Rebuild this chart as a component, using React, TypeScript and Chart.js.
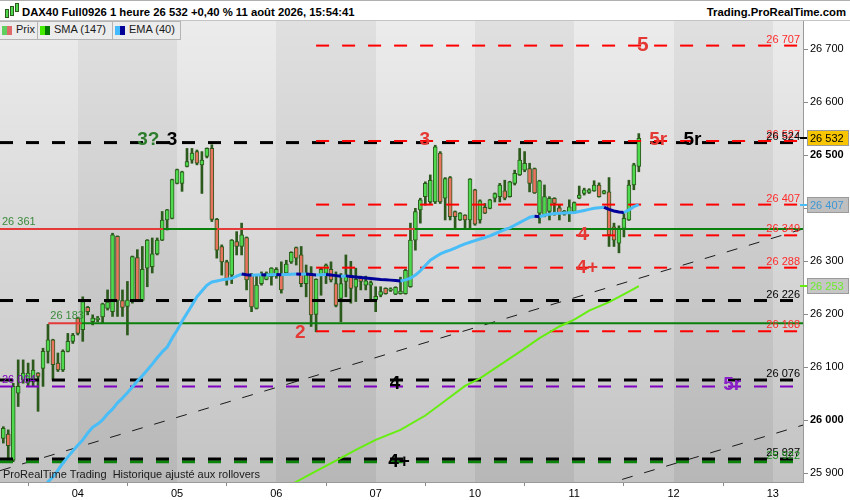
import React, { useEffect, useRef } from 'react';
import { Chart, registerables } from 'chart.js';

Chart.register(...registerables);

const FONT = '"Liberation Sans", Arial, Helvetica, sans-serif';

// ---- candles (hourly, index 0 = first visible candle on Aug 3, 20 candles per day) ----
const opens = [
  25966, 25974, 25925, 26051, 26076, 26070, 26076, 26089, 26098, 26130,
  26152, 26108, 26095, 26130, 26149, 26193, 26171, 26213, 26186, 26190,
  26195, 26211, 26205, 26347, 26226, 26215, 26226, 26307, 26226, 26287,
  26290, 26314, 26340, 26378, 26381, 26447, 26447, 26479, 26491, 26507,
  26482, 26498, 26513, 26379, 26328, 26299, 26274, 26337, 26328, 26345,
  26274, 26211, 26258, 26266, 26271, 26272, 26274, 26278, 26299, 26326,
  26312, 26258, 26277, 26200, 26274, 26277, 26285, 26258, 26230, 26262,
  26274, 26251, 26270, 26255, 26255, 26227, 26236, 26249, 26245, 26238,
  26239, 26239, 26252, 26340, 26397, 26422, 26412, 26412, 26504, 26419,
  26458, 26394, 26378, 26387, 26378, 26435, 26378, 26402, 26400, 26419,
  26422, 26433, 26422, 26447, 26463, 26472, 26475, 26475, 26391, 26387,
  26394, 26419, 26401, 26389, 26390, 26394, 26419, 26428, 26430, 26433,
  26444, 26428, 26431, 26365, 26334, 26362, 26378, 26444, 26479,
];
const highs = [
  25988, 25982, 26070, 26114, 26114, 26108, 26114, 26090, 26136, 26181,
  26153, 26127, 26133, 26164, 26164, 26194, 26233, 26215, 26199, 26196,
  26221, 26246, 26353, 26348, 26246, 26262, 26310, 26322, 26328, 26341,
  26344, 26344, 26394, 26398, 26455, 26474, 26470, 26513, 26513, 26510,
  26507, 26514, 26520, 26381, 26331, 26302, 26341, 26356, 26372, 26346,
  26277, 26274, 26280, 26280, 26288, 26288, 26299, 26302, 26318, 26327,
  26328, 26293, 26290, 26267, 26287, 26295, 26299, 26280, 26277, 26312,
  26300, 26287, 26272, 26272, 26263, 26252, 26252, 26250, 26250, 26252,
  26270, 26285, 26372, 26400, 26419, 26450, 26463, 26519, 26507, 26458,
  26460, 26395, 26392, 26388, 26456, 26436, 26416, 26409, 26417, 26429,
  26447, 26453, 26451, 26472, 26513, 26507, 26485, 26476, 26453, 26444,
  26422, 26420, 26406, 26396, 26416, 26412, 26442, 26438, 26437, 26452,
  26448, 26434, 26458, 26372, 26367, 26390, 26453, 26485, 26541,
];
const lows = [
  25957, 25925, 25922, 26026, 26070, 26064, 26064, 26017, 26064, 26108,
  26076, 26092, 26092, 26129, 26145, 26161, 26149, 26199, 26180, 26186,
  26183, 26208, 26196, 26196, 26196, 26161, 26221, 26226, 26225, 26252,
  26278, 26312, 26339, 26359, 26380, 26446, 26432, 26478, 26485, 26482,
  26428, 26495, 26375, 26306, 26274, 26255, 26258, 26312, 26312, 26246,
  26205, 26210, 26255, 26265, 26255, 26268, 26240, 26274, 26296, 26293,
  26252, 26233, 26177, 26167, 26236, 26258, 26261, 26214, 26186, 26233,
  26221, 26224, 26246, 26246, 26224, 26205, 26233, 26238, 26243, 26237,
  26238, 26238, 26251, 26321, 26372, 26406, 26409, 26409, 26409, 26378,
  26378, 26362, 26377, 26362, 26362, 26368, 26372, 26390, 26399, 26412,
  26412, 26416, 26421, 26444, 26462, 26469, 26431, 26428, 26372, 26384,
  26378, 26387, 26378, 26387, 26375, 26391, 26418, 26425, 26428, 26432,
  26421, 26427, 26328, 26328, 26316, 26346, 26377, 26435, 26469,
];
const closes = [
  25985, 25952, 26064, 26064, 26089, 26089, 26095, 26083, 26130, 26152,
  26105, 26095, 26130, 26149, 26161, 26164, 26224, 26205, 26193, 26193,
  26220, 26223, 26350, 26226, 26213, 26227, 26309, 26227, 26285, 26340,
  26314, 26340, 26378, 26397, 26454, 26473, 26469, 26488, 26504, 26485,
  26491, 26513, 26379, 26321, 26299, 26265, 26340, 26328, 26350, 26265,
  26214, 26255, 26274, 26278, 26287, 26285, 26246, 26295, 26317, 26306,
  26258, 26274, 26199, 26266, 26285, 26293, 26265, 26217, 26258, 26274,
  26249, 26266, 26262, 26263, 26260, 26234, 26243, 26239, 26248, 26251,
  26244, 26283, 26340, 26394, 26416, 26447, 26453, 26516, 26412, 26456,
  26384, 26384, 26391, 26378, 26455, 26370, 26414, 26391, 26416, 26428,
  26444, 26419, 26450, 26466, 26491, 26485, 26447, 26429, 26452, 26422,
  26419, 26409, 26391, 26395, 26403, 26411, 26425, 26435, 26435, 26444,
  26422, 26433, 26350, 26340, 26362, 26381, 26444, 26482, 26532,
];

// ---- EMA (40), one value per candle from emaStart ----
const emaStart = 8;
const emaValues = [
  25868, 25884, 25893, 25906, 25919, 25931, 25942, 25953, 25963, 25976,
  25987, 25993, 26001, 26012, 26021, 26033, 26042, 26052, 26063, 26074,
  26084, 26095, 26106, 26118, 26129, 26138, 26155, 26170, 26187, 26202,
  26217, 26233, 26244, 26255, 26261, 26263, 26265, 26266, 26268, 26272,
  26276, 26274.5, 26273.5, 26274, 26274.5, 26274, 26274.5, 26275, 26274.5, 26275,
  26275.5, 26276, 26275.5, 26276, 26275, 26274, 26274.5, 26275, 26274, 26273,
  26272, 26272.5, 26271.5, 26270.5, 26269.5, 26268.5, 26267.5, 26266.5, 26265.5, 26265,
  26264.5, 26264, 26263, 26265, 26268, 26274, 26282, 26292, 26302, 26308,
  26314, 26318, 26321, 26325, 26329, 26333, 26336, 26339, 26342, 26345,
  26348, 26352, 26356, 26360, 26363, 26368, 26373, 26378, 26383, 26385,
  26384, 26387, 26389, 26390, 26390.5, 26391, 26391.5, 26392, 26394, 26396,
  26398, 26400, 26401, 26402, 26398, 26395, 26393, 26392, 26397, 26403,
  26407,
];

// ---- SMA (147), read points ----
const smaIdx = [57, 59, 63, 67, 71, 75, 80, 85, 89, 93, 96, 100, 104, 108, 112, 115, 118, 122, 126, 128];
const smaValues = [25872, 25884, 25904, 25924, 25944, 25963, 25982, 26009, 26037, 26065, 26079, 26104, 26129, 26155, 26177, 26190, 26207, 26223, 26243, 26253];

// ---- axes ----
const dayTickIdx = [15, 35, 55, 75, 95, 115, 135, 155];
const dayLabels = ['04', '05', '06', '07', '10', '11', '12', '13'];
const xMin = -0.665;
const xMax = 161.07;
const yMin = 25883.6;
const yMax = 26755.3;

// ---- horizontal levels ----
const blackLevels = [26524, 26226, 26076, 25927];
const redLevels = [26707, 26527, 26407, 26349, 26288, 26168];
const redLevelFrom = 63;
const purpleLevels = [26064];
const greenDashLevels = [25922];
const resistanceLevel = 26361;
const resistanceGreenFrom = [32.2, 82.9];
const resistanceGreenTo = [43.0, 161.07];
const supportLevel = 26183;
const supportFrom = 9.06;
const supportGreenFrom = 15.8;

// ---- trend lines (index, value) ----
const trendAIdx = [-0.665, 161.07];
const trendAVal = [25905, 26361];
const trendBIdx = [120.2, 161.07];
const trendBVal = [25876, 25991];

// ---- wave annotations ----
const annoTexts = ['3?', '3', '3', '5', '5r', '5r', '4', '4+', '2', '4', '4+', '5r'];
const annoIdx = [29.2, 34.0, 84.9, 128.8, 131.9, 138.8, 116.7, 117.6, 59.8, 78.9, 79.7, 146.8];
const annoVals = [26529, 26529, 26529, 26708, 26529, 26529, 26350, 26287, 26166, 26069, 25921, 26067];
const annoKinds = ['green', 'black', 'red', 'red', 'red', 'black', 'red', 'red', 'red', 'black', 'black', 'purple'];

const fmt = (v: number) => Math.round(v).toString().replace(/\B(?=(\d{3})+(?!\d))/g, ' ');

const KIND_COLORS: Record<string, string> = {
  green: '#2d7d2d',
  black: '#000000',
  red: '#e53935',
  purple: '#8a1fc8',
};

const WICK = '#2c5a1c';
const UP = '#4fd94f';
const DOWN = '#e8735f';
const RED_SOLID = '#e53a3a';
const GREEN_SOLID = '#0b7f0b';
const EMA_UP = '#48bdf7';
const EMA_DOWN = '#000099';

export default function App() {
  const ref = useRef<HTMLCanvasElement | null>(null);

  useEffect(() => {
    const canvas = ref.current;
    if (!canvas) return;
    Chart.defaults.font.family = FONT;
    const idx = opens.map((_, k) => k);

    const hLine = (v: number, from: number, to: number, color: string, width: number, dash: number[], order: number) => ({
      type: 'line',
      data: [{ x: from, y: v }, { x: to, y: v }],
      borderColor: color,
      borderWidth: width,
      borderDash: dash,
      pointRadius: 0,
      fill: false,
      tension: 0,
      order,
    });

    const datasets: any[] = [];
    datasets.push({
      type: 'bar',
      data: idx.map((k) => ({ x: k, y: [lows[k], highs[k]] })),
      backgroundColor: WICK,
      barThickness: 2,
      grouped: false,
      order: 20,
    });
    datasets.push({
      type: 'bar',
      data: idx.map((k) => ({ x: k, y: [opens[k], closes[k]] })),
      backgroundColor: (c: any) => (closes[c.dataIndex] >= opens[c.dataIndex] ? UP : DOWN),
      borderColor: WICK,
      borderWidth: 1,
      borderSkipped: false,
      barThickness: 4,
      grouped: false,
      order: 19,
    });

    // trend lines
    datasets.push({
      type: 'line',
      data: trendAIdx.map((k, i) => ({ x: k, y: trendAVal[i] })),
      borderColor: '#1a1a1a', borderWidth: 1, borderDash: [11, 12], pointRadius: 0, fill: false, order: 12,
    });
    datasets.push({
      type: 'line',
      data: trendBIdx.map((k, i) => ({ x: k, y: trendBVal[i] })),
      borderColor: '#1a1a1a', borderWidth: 1, borderDash: [11, 12], pointRadius: 0, fill: false, order: 12,
    });

    // solid support / resistance
    datasets.push(hLine(resistanceLevel, xMin, xMax, RED_SOLID, 2, [], 10));
    resistanceGreenFrom.forEach((f, i) => datasets.push(hLine(resistanceLevel, f, resistanceGreenTo[i], GREEN_SOLID, 2, [], 9)));
    datasets.push(hLine(supportLevel, supportFrom, supportGreenFrom, RED_SOLID, 2, [], 10));
    datasets.push(hLine(supportLevel, supportGreenFrom, xMax, GREEN_SOLID, 2, [], 9));

    // dashed levels
    greenDashLevels.forEach((v) => datasets.push(hLine(v, xMin, xMax, '#0a850a', 3, [13, 13], 8)));
    purpleLevels.forEach((v) => datasets.push(hLine(v, xMin, xMax, '#8000c0', 2, [13, 13], 8)));
    blackLevels.forEach((v) => datasets.push(hLine(v, xMin, xMax, '#000000', 3, [13, 13], 7)));
    redLevels.forEach((v) => datasets.push(hLine(v, redLevelFrom, xMax, '#ff0000', 2, [13, 13], 6)));

    // moving averages
    datasets.push({
      type: 'line',
      data: smaIdx.map((k, i) => ({ x: k, y: smaValues[i] })),
      borderColor: '#66ee11', borderWidth: 2, pointRadius: 0, fill: false, tension: 0, order: 2,
    });
    datasets.push({
      type: 'line',
      data: emaValues.map((v, i) => ({ x: emaStart + i, y: v })),
      borderColor: EMA_UP,
      borderWidth: 3,
      borderJoinStyle: 'round',
      pointRadius: 0,
      fill: false,
      tension: 0,
      order: 1,
      segment: {
        borderColor: (c: any) => (c.p1.parsed.y < c.p0.parsed.y ? EMA_DOWN : EMA_UP),
      },
    });

    const bgPlugin = {
      id: 'bgBands',
      beforeDraw(chart: any) {
        const { ctx, chartArea: a, scales } = chart;
        const xs = scales.x;
        ctx.save();
        ctx.fillStyle = '#ffffff';
        ctx.fillRect(0, 0, chart.width, chart.height);
        const bounds = [xMin, ...dayTickIdx, xMax];
        for (let i = 0; i < bounds.length - 1; i++) {
          const x0 = Math.max(a.left, Math.round(xs.getPixelForValue(bounds[i])));
          const x1 = Math.min(a.right, Math.round(xs.getPixelForValue(bounds[i + 1])));
          if (x1 <= x0) continue;
          const g = ctx.createLinearGradient(0, a.top, 0, a.bottom);
          if (i % 2 === 0) {
            g.addColorStop(0, '#ececec');
            g.addColorStop(1, '#c3c3c3');
          } else {
            g.addColorStop(0, '#e0e0e0');
            g.addColorStop(1, '#b7b7b7');
          }
          ctx.fillStyle = g;
          ctx.fillRect(x0, a.top, x1 - x0, a.bottom - a.top);
        }
        ctx.restore();
      },
    };

    const textPlugin = {
      id: 'levelTexts',
      afterDatasetsDraw(chart: any) {
        const { ctx, chartArea: a, scales } = chart;
        const xs = scales.x;
        const ys = scales.y;
        ctx.save();
        ctx.beginPath();
        ctx.rect(a.left, a.top, a.right - a.left, a.bottom - a.top);
        ctx.clip();
        ctx.font = `11px ${FONT}`;
        ctx.textBaseline = 'alphabetic';
        ctx.textAlign = 'right';
        const rx = a.right - 3;
        redLevels.forEach((v) => {
          ctx.fillStyle = '#ff2a2a';
          ctx.fillText(fmt(v), rx, ys.getPixelForValue(v) - 3);
        });
        blackLevels.forEach((v) => {
          ctx.fillStyle = '#000000';
          ctx.fillText(fmt(v), rx, ys.getPixelForValue(v) - 3);
        });
        greenDashLevels.forEach((v) => {
          ctx.fillStyle = '#1c8c1c';
          ctx.fillText(fmt(v), rx, ys.getPixelForValue(v) - 3);
        });
        ctx.textAlign = 'left';
        ctx.fillStyle = '#3a8a3a';
        ctx.fillText(fmt(resistanceLevel), a.left + 2, ys.getPixelForValue(resistanceLevel) - 4);
        ctx.fillText(fmt(supportLevel), xs.getPixelForValue(supportFrom) + 2, ys.getPixelForValue(supportLevel) - 4);
        purpleLevels.forEach((v) => {
          ctx.fillStyle = '#8000c0';
          ctx.fillText(fmt(v), a.left + 2, ys.getPixelForValue(v) - 3);
        });

        // wave labels
        ctx.textAlign = 'center';
        ctx.textBaseline = 'middle';
        annoTexts.forEach((t, i) => {
          const size = t === '5' ? 21 : 19;
          ctx.font = `bold ${size}px ${FONT}`;
          ctx.fillStyle = KIND_COLORS[annoKinds[i]];
          ctx.fillText(t, xs.getPixelForValue(annoIdx[i]), ys.getPixelForValue(annoVals[i]));
        });
        ctx.restore();
      },
    };

    const badgePlugin = {
      id: 'badges',
      afterDraw(chart: any) {
        const { ctx, chartArea: a, scales } = chart;
        const ys = scales.y;
        const badge = (v: number, bg: string, fg: string, tick: string) => {
          const y = Math.round(ys.getPixelForValue(v));
          ctx.save();
          ctx.fillStyle = tick;
          ctx.fillRect(a.right - 3, y - 1, 8, 2);
          ctx.fillStyle = bg;
          ctx.fillRect(a.right + 4, y - 8, 42, 16);
          ctx.strokeStyle = '#9a9a9a';
          ctx.lineWidth = 1;
          ctx.strokeRect(a.right + 4.5, y - 7.5, 41, 15);
          ctx.fillStyle = fg;
          ctx.font = `11px ${FONT}`;
          ctx.textAlign = 'left';
          ctx.textBaseline = 'middle';
          ctx.fillText(fmt(v), a.right + 7, y + 0.5);
          ctx.restore();
        };
        badge(smaValues[smaValues.length - 1], '#c6c6c6', '#6cec2c', '#66ee11');
        badge(emaValues[emaValues.length - 1], '#bfbfbf', '#3d97d6', '#48bdf7');
        badge(closes[closes.length - 1], '#f7c600', '#000000', '#000000');
      },
    };

    const chart = new Chart(canvas, {
      type: 'bar',
      data: { datasets },
      options: {
        animation: false,
        responsive: false,
        events: [],
        devicePixelRatio: 1,
        layout: { padding: { top: 20, left: 0, right: 0, bottom: 0 } },
        plugins: {
          legend: { display: false },
          tooltip: { enabled: false },
          title: { display: false },
        },
        scales: {
          x: {
            type: 'linear',
            min: xMin,
            max: xMax,
            offset: false,
            afterBuildTicks: (s: any) => {
              s.ticks = dayTickIdx.map((v) => ({ value: v }));
            },
            afterFit: (s: any) => {
              s.height = 18;
            },
            ticks: {
              autoSkip: false,
              maxRotation: 0,
              padding: 1,
              color: '#000',
              font: { size: 11, family: FONT },
              callback: (value: any) => {
                const i = dayTickIdx.indexOf(Number(value));
                return i >= 0 ? dayLabels[i] : '';
              },
            },
            grid: { display: true, drawOnChartArea: false, drawTicks: true, tickLength: 4, color: '#8a8a8a' },
            border: { display: true, color: '#9a9a9a' },
          },
          y: {
            type: 'linear',
            position: 'right',
            min: yMin,
            max: yMax,
            afterFit: (s: any) => {
              s.width = 47;
            },
            ticks: {
              stepSize: 100,
              includeBounds: false,
              padding: 2,
              color: '#000',
              font: (c: any) => ({
                size: 11,
                family: FONT,
                weight: c.tick && Math.round(c.tick.value) % 500 === 0 ? 'bold' : 'normal',
              }),
              callback: (value: any) => fmt(Number(value)),
            },
            grid: { display: true, drawOnChartArea: false, drawTicks: true, tickLength: 5, color: '#8a8a8a' },
            border: { display: true, color: '#9a9a9a' },
          },
        },
      } as any,
      plugins: [bgPlugin, textPlugin, badgePlugin],
    } as any);

    return () => chart.destroy();
  }, []);

  const tab = (left: number, width: number, c1: string, c2: string, label: string) => (
    <div
      style={{
        position: 'absolute',
        left,
        top: 21,
        width,
        height: 19,
        boxSizing: 'border-box',
        background: '#ececec',
        border: '1px solid #b4b4b4',
        borderLeft: left === 0 ? 'none' : '1px solid #b4b4b4',
      }}
    >
      <span style={{ position: 'absolute', left: 2, top: 4, width: 5, height: 9, background: c1 }} />
      <span style={{ position: 'absolute', left: 7, top: 4, width: 5, height: 9, background: c2 }} />
      <span style={{ position: 'absolute', left: 16, top: 1, fontSize: 11, lineHeight: '13px', color: '#1a1a1a', whiteSpace: 'nowrap' }}>
        {label}
      </span>
    </div>
  );

  return (
    <div
      style={{
        position: 'fixed',
        left: 0,
        top: 0,
        width: 850,
        height: 500,
        overflow: 'hidden',
        background: '#fff',
        fontFamily: FONT,
      }}
    >
      <canvas ref={ref} width={850} height={500} style={{ position: 'absolute', left: 0, top: 0, width: 850, height: 500 }} />
      <div
        style={{
          position: 'absolute',
          left: 0,
          top: 0,
          width: 850,
          height: 21,
          boxSizing: 'border-box',
          background: '#fff',
          borderTop: '1px solid #b0b0b0',
          borderBottom: '1px solid #c4c4c4',
        }}
      >
        <span style={{ position: 'absolute', left: 5, top: 8, width: 2, height: 7, background: '#4fd94f', border: '1px solid #2c5a1c' }} />
        <span style={{ position: 'absolute', left: 10, top: 5, width: 2, height: 8, background: '#4fd94f', border: '1px solid #2c5a1c' }} />
        <span style={{ position: 'absolute', left: 15, top: 2, width: 2, height: 7, background: '#4fd94f', border: '1px solid #2c5a1c' }} />
        <span
          style={{
            position: 'absolute',
            left: 22,
            top: 5,
            fontSize: 11.3,
            lineHeight: '13px',
            fontWeight: 'bold',
            color: '#000',
            whiteSpace: 'nowrap',
          }}
        >
          DAX40 Full0926 1 heure 26 532 +0,40 % 11 août 2026, 15:54:41
        </span>
        <span
          style={{
            position: 'absolute',
            right: 4,
            top: 5,
            fontSize: 11.3,
            lineHeight: '13px',
            fontWeight: 'bold',
            color: '#000',
            whiteSpace: 'nowrap',
          }}
        >
          Trading.ProRealTime.com
        </span>
      </div>
      {tab(0, 38, '#5fcf5f', '#e06a6a', 'Prix')}
      {tab(37, 76, '#44ee00', '#007700', 'SMA (147)')}
      {tab(112, 69, '#44bbff', '#000099', 'EMA (40)')}
      <div
        style={{
          position: 'absolute',
          left: 3,
          top: 468,
          fontSize: 11,
          lineHeight: '13px',
          color: '#1a1a1a',
          whiteSpace: 'pre',
        }}
      >
        {'ProRealTime Trading  Historique ajusté aux rollovers'}
      </div>
    </div>
  );
}
